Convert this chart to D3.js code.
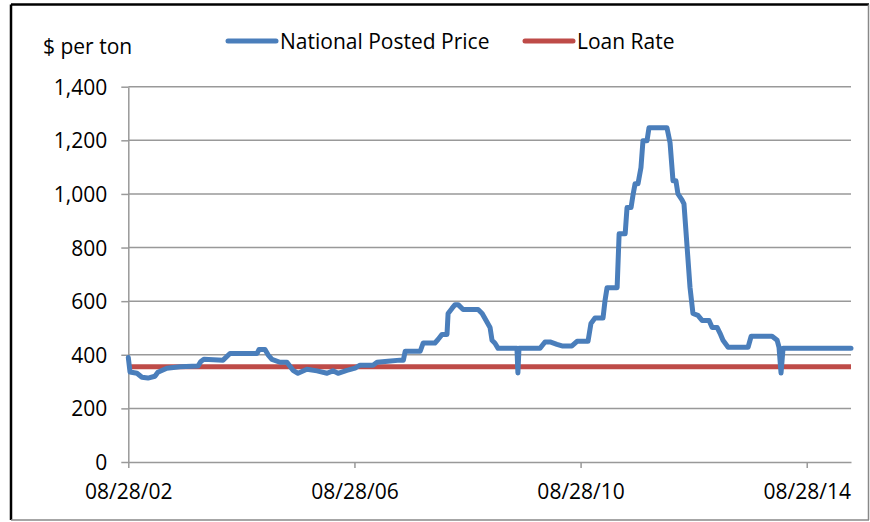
<!DOCTYPE html>
<meta charset="utf-8">
<script src="https://d3js.org/d3.v7.min.js"></script>
<style>
body { margin: 0; background: #fff; }
svg { display: block; font-family: "Open Sans", sans-serif; }
.grid line { stroke: #999; stroke-width: 1.5px; }
.axis path, .axis line { stroke: #999; stroke-width: 1.5px; }
.axis text { font-size: 21px; fill: #000; font-family: "Open Sans", sans-serif; }
</style>
<body>
<script>

// National posted price (date, $ per ton)
var priceDates = [
  "2002-08-28", "2002-09-08", "2002-10-23", "2002-11-24", "2003-01-02", "2003-02-16",
  "2003-03-07", "2003-05-04", "2003-07-28", "2003-11-21", "2003-12-10", "2003-12-29",
  "2004-05-01", "2004-06-15", "2004-12-07", "2004-12-20", "2005-01-27", "2005-02-16",
  "2005-03-13", "2005-05-04", "2005-06-18", "2005-07-27", "2005-08-28", "2005-10-25",
  "2005-12-29", "2006-03-04", "2006-04-11", "2006-05-14", "2006-07-10", "2006-09-01",
  "2006-10-03", "2006-12-26", "2007-01-21", "2007-04-01", "2007-06-18", "2007-07-10",
  "2007-07-22", "2007-10-27", "2007-11-15", "2008-01-30", "2008-02-19", "2008-03-16",
  "2008-04-17", "2008-04-24", "2008-05-19", "2008-06-08", "2008-06-28", "2008-07-30",
  "2008-11-04", "2008-11-30", "2009-01-01", "2009-01-20", "2009-02-02", "2009-02-21",
  "2009-03-13", "2009-07-13", "2009-07-19", "2009-07-26", "2009-12-09", "2010-01-10",
  "2010-02-12", "2010-03-28", "2010-04-30", "2010-07-03", "2010-08-05", "2010-10-15",
  "2010-11-03", "2010-11-29", "2011-01-20", "2011-02-02", "2011-02-15", "2011-04-21",
  "2011-05-04", "2011-06-12", "2011-06-24", "2011-07-20", "2011-08-02", "2011-08-15",
  "2011-09-03", "2011-09-22", "2011-10-05", "2011-10-31", "2011-11-13", "2012-03-08",
  "2012-03-28", "2012-04-16", "2012-05-05", "2012-05-18", "2012-06-13", "2012-06-26",
  "2012-08-04", "2012-08-23", "2012-09-24", "2012-10-21", "2012-12-05", "2012-12-25",
  "2013-01-26", "2013-02-14", "2013-03-05", "2013-04-07", "2013-08-14", "2013-09-03",
  "2014-01-16", "2014-02-18", "2014-03-02", "2014-03-15", "2014-03-28", "2015-06-10"
];
var priceValues = [
  390, 336, 331, 316, 313, 320,
  335, 350, 355, 358, 375, 383,
  380, 405, 405, 420, 420, 400,
  383, 372, 372, 342, 331, 346,
  340, 331, 340, 331, 342, 350,
  361, 361, 372, 376, 380, 380,
  413, 413, 444, 444, 457, 476,
  476, 554, 573, 587, 587, 569,
  569, 554, 521, 502, 454, 443,
  424, 424, 332, 424, 424, 448,
  448, 439, 433, 433, 450, 450,
  517, 537, 537, 603, 650, 650,
  851, 851, 949, 949, 997, 1038,
  1038, 1098, 1198, 1198, 1247, 1247,
  1191, 1049, 1049, 1000, 978, 963,
  651, 554, 547, 528, 528, 502,
  502, 480, 454, 428, 428, 469,
  469, 454, 428, 332, 424, 424
];

// loan rate is flat over the whole period
var loanDates = ["2002-08-28", "2015-06-10"];
var loanValues = [355, 355];

var seriesNames = ["National Posted Price", "Loan Rate"];
var seriesColors = ["#4a7ebb", "#be4b48"];

var yTicks = [0, 200, 400, 600, 800, 1000, 1200, 1400];
var xTickDates = ["2002-08-28", "2006-08-28", "2010-08-28", "2014-08-28"];

var parseDate = d3.timeParse("%Y-%m-%d");

var price = priceDates.map(function(d, i) { return {date: parseDate(d), value: priceValues[i]}; });
var loan = loanDates.map(function(d, i) { return {date: parseDate(d), value: loanValues[i]}; });

var W = 870, H = 522;
var margin = {top: 86.7, right: 19, bottom: 60, left: 128.3};
var width = W - margin.left - margin.right,
    height = H - margin.top - margin.bottom;

var svg = d3.select("body").append("svg")
  .attr("width", W)
  .attr("height", H);

// frame
svg.append("line").attr("x1", 11).attr("x2", 869).attr("y1", 4.5).attr("y2", 4.5)
  .attr("stroke", "#000").attr("stroke-width", 2.5);
svg.append("line").attr("x1", 11).attr("x2", 11).attr("y1", 4.5).attr("y2", 520)
  .attr("stroke", "#000").attr("stroke-width", 2.5);
svg.append("line").attr("x1", 11).attr("x2", 869).attr("y1", 520).attr("y2", 520)
  .attr("stroke", "#888").attr("stroke-width", 1.5);
svg.append("line").attr("x1", 868.5).attr("x2", 868.5).attr("y1", 4.5).attr("y2", 520)
  .attr("stroke", "#888").attr("stroke-width", 1.5);

var g = svg.append("g")
  .attr("transform", "translate(" + margin.left + "," + margin.top + ")");

var xScale = d3.scaleTime()
  .domain([parseDate("2002-08-28"), parseDate("2015-06-10")])
  .range([0, width]);

var yScale = d3.scaleLinear()
  .domain([0, 1400])
  .range([height, 0]);

// horizontal gridlines
g.append("g").attr("class", "grid")
  .selectAll("line")
  .data(yTicks.slice(1))
  .enter().append("line")
  .attr("x1", 0).attr("x2", width)
  .attr("y1", function(d) { return yScale(d); })
  .attr("y2", function(d) { return yScale(d); });

var yAxis = d3.axisLeft(yScale)
  .tickValues(yTicks)
  .tickFormat(d3.format(","))
  .tickSizeInner(7).tickSizeOuter(0)
  .tickPadding(14);

var yAxisGroup = g.append("g").attr("class", "y axis").call(yAxis);
yAxisGroup.selectAll("text").attr("dy", "0.36em");

var xAxis = d3.axisBottom(xScale)
  .tickValues(xTickDates.map(parseDate))
  .tickFormat(d3.timeFormat("%m/%d/%y"))
  .tickSizeInner(6).tickSizeOuter(0)
  .tickPadding(16);

g.append("g").attr("class", "x axis")
  .attr("transform", "translate(0," + height + ")")
  .call(xAxis);

var line = d3.line()
  .x(function(d) { return xScale(d.date); })
  .y(function(d) { return yScale(d.value); });

g.append("path")
  .datum(loan)
  .attr("fill", "none")
  .attr("stroke", seriesColors[1])
  .attr("stroke-width", 5)
  .attr("d", line);

g.append("path")
  .datum(price)
  .attr("fill", "none")
  .attr("stroke", seriesColors[0])
  .attr("stroke-width", 5)
  .attr("stroke-linejoin", "round")
  .attr("stroke-linecap", "round")
  .attr("d", line);

// unit label
svg.append("text")
  .attr("x", 43).attr("y", 54)
  .style("font-size", "21px")
  .text("$ per ton");

// legend
var legendX = [228, 525];
var legend = svg.selectAll(".legend")
  .data(seriesNames)
  .enter().append("g")
  .attr("class", "legend")
  .attr("transform", function(d, i) { return "translate(" + legendX[i] + ",41)"; });

legend.append("line")
  .attr("x1", 0).attr("x2", 48)
  .attr("stroke", function(d, i) { return seriesColors[i]; })
  .attr("stroke-width", 5)
  .attr("stroke-linecap", "round");

legend.append("text")
  .attr("x", 52).attr("y", 7.5)
  .style("font-size", "21px")
  .text(function(d) { return d; });

</script>
</body>
